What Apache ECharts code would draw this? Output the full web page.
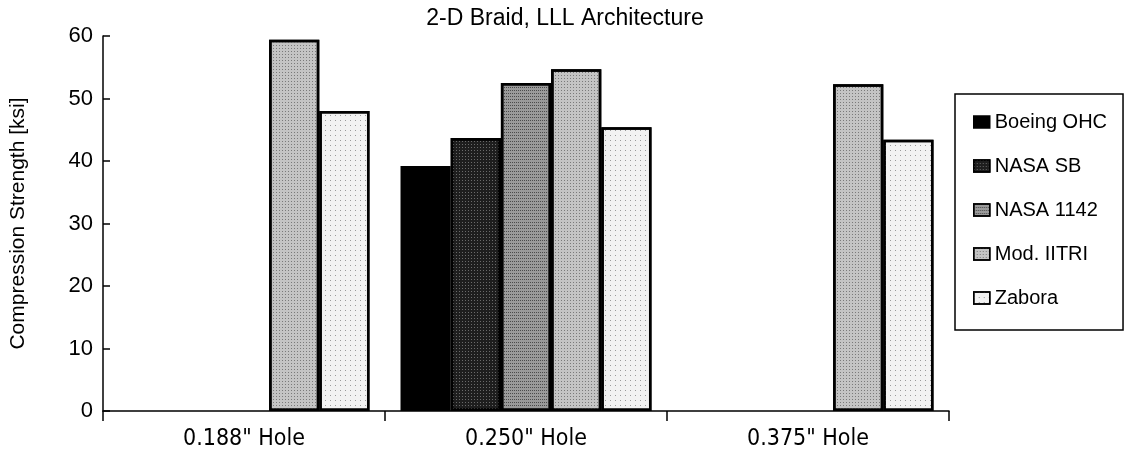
<!DOCTYPE html>
<html>
<head>
<meta charset="utf-8">
<script src="https://cdn.jsdelivr.net/npm/echarts@6/dist/echarts.min.js"></script>
<style>
  html, body { margin: 0; padding: 0; background: #fff; }
  #chart { width: 1135px; height: 458px; }
</style>
</head>
<body>
<div id="chart"></div>
<script>
var categories = ['0.188" Hole', '0.250" Hole', '0.375" Hole'];
var seriesNames = ['Boeing OHC', 'NASA SB', 'NASA 1142', 'Mod. IITRI', 'Zabora'];
var boeingOHC = [null, 39.2, null];
var nasaSB = [null, 43.7, null];
var nasa1142 = [null, 52.5, null];
var modIITRI = [59.4, 54.7, 52.3];
var zabora = [48.0, 45.4, 43.4];
var yTicks = [0, 10, 20, 30, 40, 50, 60];

var values = [boeingOHC, nasaSB, nasa1142, modIITRI, zabora];

// halftone-ish fills: base colour + dot pattern
var fills = ['#000000', '#1e1e1e', '#9a9a9a', '#c4c4c4', '#f2f2f2'];
var dots = [
	null,
	{ symbol: 'rect', symbolSize: 1, color: '#6a6a6a', dashArrayX: [1, 2], dashArrayY: [1, 2] },
	{ symbol: 'rect', symbolSize: 1, color: '#4a4a4a', dashArrayX: [1, 1], dashArrayY: [1, 2] },
	{ symbol: 'rect', symbolSize: 1, color: '#7a7a7a', dashArrayX: [1, 2], dashArrayY: [1, 2] },
	{ symbol: 'rect', symbolSize: 1, color: '#9a9a9a', dashArrayX: [1, 4], dashArrayY: [1, 4] }
];

var myChart = echarts.init(document.getElementById('chart'));

var series = [];
for (var i = 0; i < seriesNames.length; i++) {
	var style = {
		color: fills[i],
		borderColor: '#000',
		borderWidth: 2.5
	};
	if (dots[i]) style.decal = dots[i];
	series.push({
		name: seriesNames[i],
		type: 'bar',
		barGap: 0,
		barCategoryGap: '11%',
		itemStyle: style,
		data: values[i]
	});
}

var option = {
	animation: false,
	backgroundColor: '#fff',
	textStyle: { fontFamily: 'Liberation Sans', color: '#000' },
	title: {
		text: '2-D Braid, LLL Architecture',
		left: 560,
		textAlign: 'center',
		top: 2,
		textStyle: { fontSize: 23, fontWeight: 'normal', color: '#000', fontFamily: 'Liberation Sans' }
	},
	legend: {
		orient: 'vertical',
		left: 955,
		top: 94,
		padding: [18, 16, 22, 18],
		itemGap: 24,
		itemWidth: 16,
		itemHeight: 12,
		borderColor: '#000',
		borderWidth: 1.5,
		icon: 'rect',
		itemStyle: { borderColor: '#000', borderWidth: 1.5 },
		textStyle: { fontSize: 20, color: '#000', fontFamily: 'Liberation Sans' },
		data: seriesNames
	},
	grid: {
		left: 100,
		right: 186,
		top: 36,
		bottom: 47
	},
	xAxis: {
		type: 'category',
		data: categories,
		axisLine: { lineStyle: { color: '#000', width: 1.5 } },
		axisTick: { show: true, length: 10, lineStyle: { color: '#000', width: 1.5 } },
		axisLabel: { fontSize: 23, color: '#000', fontFamily: 'DejaVu Sans Condensed', margin: 17 }
	},
	yAxis: {
		type: 'value',
		min: 0,
		max: 60,
		interval: 10,
		name: 'Compression Strength [ksi]',
		nameLocation: 'middle',
		nameGap: 74,
		nameTextStyle: { fontSize: 21, color: '#000', fontFamily: 'Liberation Sans' },
		axisLine: { show: true, lineStyle: { color: '#000', width: 1.5 } },
		axisTick: { show: true, inside: true, length: 7, lineStyle: { color: '#000', width: 1.5 } },
		axisLabel: {
			fontSize: 22,
			color: '#000',
			margin: 10,
			formatter: function(v) { return yTicks.indexOf(v) >= 0 ? String(v) : ''; }
		},
		splitLine: { show: false }
	},
	series: series
};
myChart.setOption(option);
</script>
</body>
</html>
